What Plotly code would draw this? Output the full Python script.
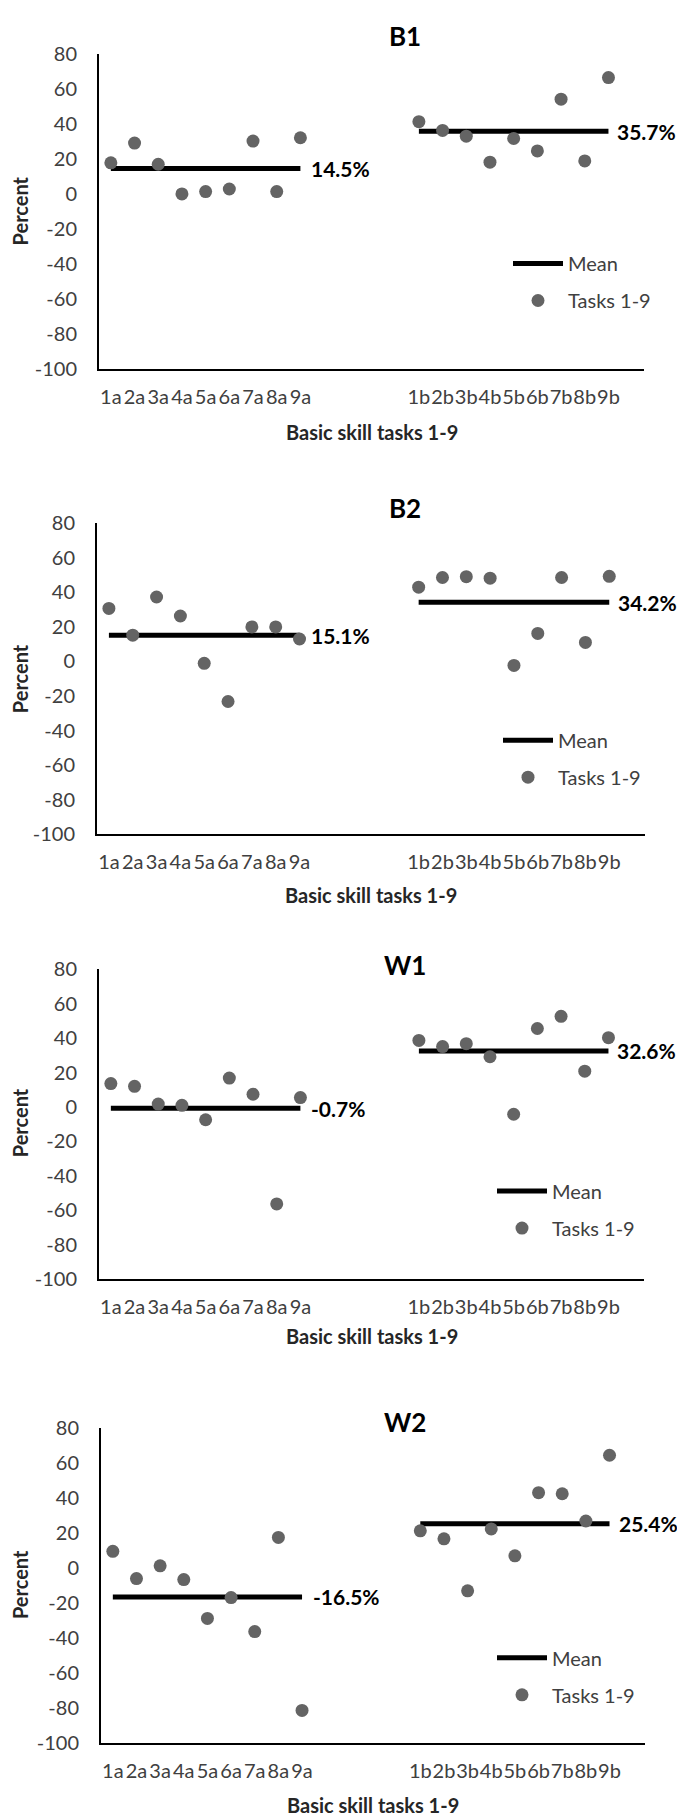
import plotly.graph_objects as go

W, H = 685, 1817
FONT = "Lato"

# ---------------- data ----------------
panels = ["B1", "B2", "W1", "W2"]
tasks_a = ["1a", "2a", "3a", "4a", "5a", "6a", "7a", "8a", "9a"]
tasks_b = ["1b", "2b", "3b", "4b", "5b", "6b", "7b", "8b", "9b"]

b1_a = [17.7, 29.0, 16.9, 0.0, 1.3, 2.8, 30.1, 1.3, 32.0]
b1_b = [41.2, 36.2, 32.9, 18.1, 31.6, 24.5, 54.0, 18.8, 66.3]
b2_a = [30.7, 15.2, 37.3, 26.3, -1.1, -23.2, 20.0, 20.0, 13.0]
b2_b = [43.0, 48.6, 49.1, 48.2, -2.3, 16.2, 48.6, 11.0, 49.3]
w1_a = [13.6, 12.0, 1.7, 1.0, -7.4, 16.8, 7.4, -56.3, 5.5]
w1_b = [38.7, 35.1, 36.8, 29.2, -4.2, 45.6, 52.7, 20.8, 40.3]
w2_a = [9.6, -6.0, 1.3, -6.6, -28.8, -16.9, -36.3, 17.5, -81.4]
w2_b = [21.3, 16.7, -13.0, 22.4, 7.0, 43.1, 42.5, 26.9, 64.5]

mean_a = [14.5, 15.1, -0.7, -16.5]
mean_b = [35.7, 34.2, 32.6, 25.4]
mean_a_labels = ["14.5%", "15.1%", "-0.7%", "-16.5%"]
mean_b_labels = ["35.7%", "34.2%", "32.6%", "25.4%"]

y_ticks = [80, 60, 40, 20, 0, -20, -40, -60, -80, -100]
y_tick_labels = [str(v) for v in y_ticks]
series_a = [b1_a, b2_a, w1_a, w2_a]
series_b = [b1_b, b2_b, w1_b, w2_b]

# category slots: 1a..9a, 4 empty slots, 1b..9b, 1 empty slot
pos_a = list(range(0, 9))
pos_b = list(range(13, 22))

# ---------------- layout (pixels) ----------------
plot_top = [33, 509, 961, 1426]
plot_bot = [353, 824, 1275, 1745]
plot_left = [91, 89, 91, 93]
plot_right = [636, 637, 636, 637]
title_y = [15, 494, 957, 1420]
xtitle_y = [416, 886, 1333, 1808]
ytitle_y = [193, 667, 1117, 1585]
legend_x = [500, 490, 484, 484]
legend_y = [226, 709, 1166, 1639]


def px_x(p):
    return p / W


def px_y(p):
    return 1 - p / H


fig = go.Figure()
annotations = []
MARK = "#646464"
TICK = "#404040"

for i, name in enumerate(panels):
    n = "" if i == 0 else str(i + 1)
    xa, ya = "x" + n, "y" + n
    leg = "legend" if i == 0 else "legend" + str(i + 1)

    fig.add_trace(go.Scatter(
        x=[pos_a[0], pos_a[-1], None, pos_b[0], pos_b[-1]],
        y=[mean_a[i], mean_a[i], None, mean_b[i], mean_b[i]],
        mode="lines", line=dict(color="black", width=5),
        name="Mean", xaxis=xa, yaxis=ya, legend=leg, legendgroup="m%d" % i,
        hoverinfo="skip"))
    fig.add_trace(go.Scatter(
        x=pos_a + pos_b, y=series_a[i] + series_b[i],
        mode="markers", marker=dict(color=MARK, size=13),
        name="Tasks 1-9", xaxis=xa, yaxis=ya, legend=leg, legendgroup="t%d" % i))

    fig.update_layout({
        "xaxis" + n: dict(
            domain=[px_x(plot_left[i]), px_x(plot_right[i])],
            anchor=ya, range=[-0.5, 22.5],
            tickvals=pos_a + pos_b, ticktext=tasks_a + tasks_b,
            tickangle=0,
            showgrid=False, zeroline=False, showline=True,
            linecolor="black", linewidth=2, ticks="",
            ticklabelstandoff=9,
            tickfont=dict(family=FONT, size=20, color=TICK)),
        "yaxis" + n: dict(
            domain=[px_y(plot_bot[i]), px_y(plot_top[i])],
            anchor=xa, range=[-100, 80],
            tickvals=y_ticks, ticktext=y_tick_labels,
            showgrid=False, zeroline=False, showline=True,
            linecolor="black", linewidth=2, ticks="",
            ticklabelstandoff=16,
            tickfont=dict(family=FONT, size=20, color=TICK)),
        leg: dict(
            x=px_x(legend_x[i]), y=px_y(legend_y[i]),
            xanchor="left", yanchor="top",
            bgcolor="rgba(0,0,0,0)", itemwidth=50, tracegroupgap=8,
            font=dict(family=FONT, size=20, color=TICK)),
    })

    # mean value labels
    annotations.append(dict(
        x=pos_a[-1], y=mean_a[i], xref=xa, yref=ya, text="<b>%s</b>" % mean_a_labels[i],
        showarrow=False, xanchor="left", yanchor="middle", xshift=9,
        font=dict(family=FONT, size=21, color="black")))
    annotations.append(dict(
        x=pos_b[-1], y=mean_b[i], xref=xa, yref=ya, text="<b>%s</b>" % mean_b_labels[i],
        showarrow=False, xanchor="left", yanchor="middle", xshift=7,
        font=dict(family=FONT, size=21, color="black")))
    # panel title
    annotations.append(dict(
        x=px_x(397), y=px_y(title_y[i]), xref="paper", yref="paper",
        text="<b>%s</b>" % name, showarrow=False, xanchor="center", yanchor="middle",
        font=dict(family=FONT, size=26, color="black")))
    # x title
    annotations.append(dict(
        x=px_x((plot_left[i] + plot_right[i]) / 2), y=px_y(xtitle_y[i]),
        xref="paper", yref="paper",
        text="<b>Basic skill tasks 1-9</b>", showarrow=False,
        xanchor="center", yanchor="middle",
        font=dict(family=FONT, size=20, color="#262626")))
    # y title
    annotations.append(dict(
        x=px_x(12), y=px_y(ytitle_y[i]), xref="paper", yref="paper",
        text="<b>Percent</b>", showarrow=False, textangle=-90,
        xanchor="center", yanchor="middle",
        font=dict(family=FONT, size=20, color="#262626")))

fig.update_layout(
    width=W, height=H,
    margin=dict(l=0, r=0, t=0, b=0),
    paper_bgcolor="white", plot_bgcolor="white",
    annotations=annotations,
    showlegend=True,
)

fig.write_html("out.html")
